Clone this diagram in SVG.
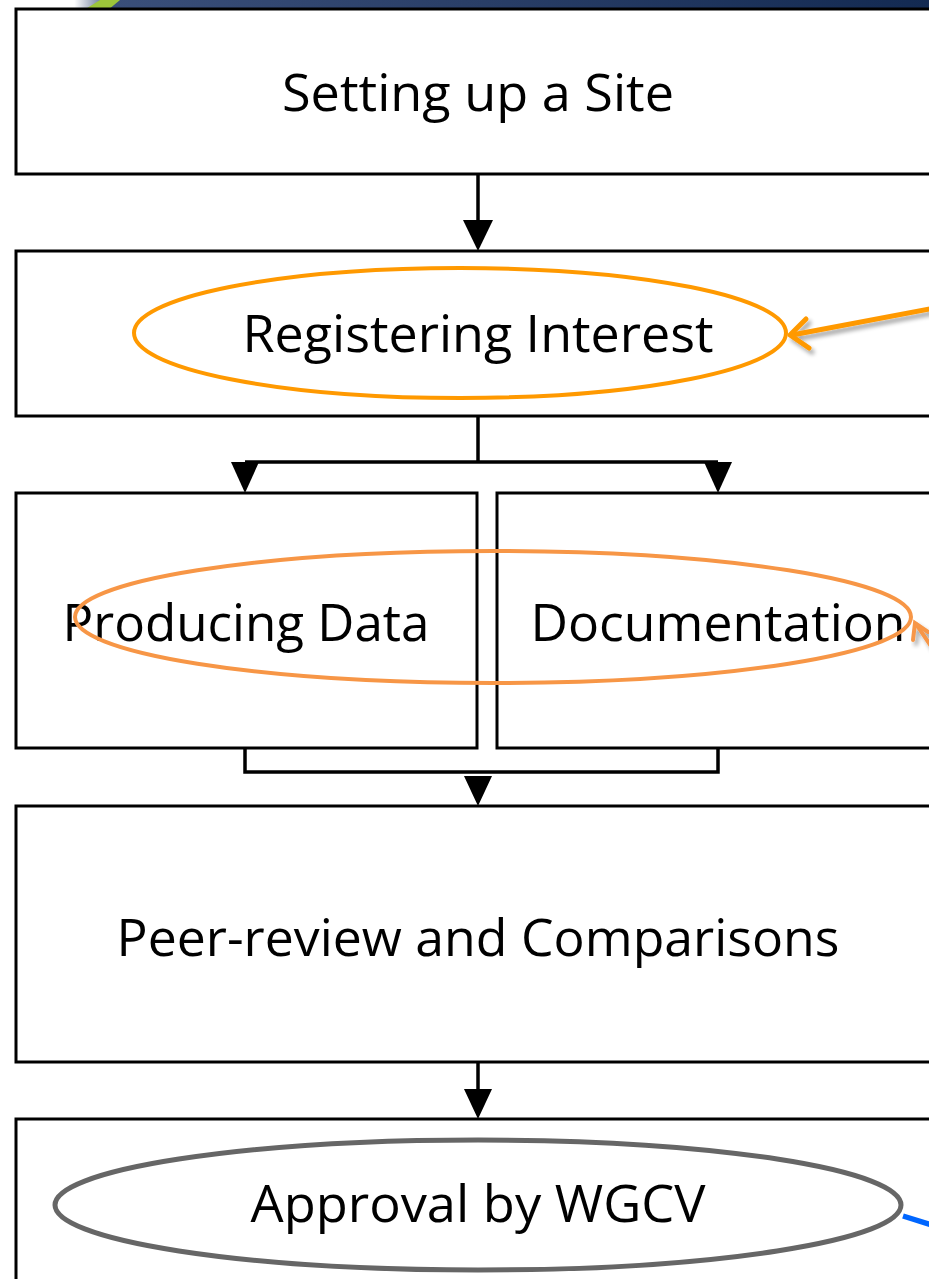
<svg xmlns="http://www.w3.org/2000/svg" width="929" height="1279" viewBox="0 0 929 1279">
  <defs>
    <linearGradient id="bannerGrad" x1="0" y1="0" x2="1" y2="0">
      <stop offset="0" stop-color="#ffffff"/>
      <stop offset="0.08" stop-color="#ffffff"/>
      <stop offset="0.12" stop-color="#3a4f7a"/>
      <stop offset="0.5" stop-color="#2a3f68"/>
      <stop offset="1" stop-color="#132a52"/>
    </linearGradient>
    <filter id="softShadow" x="-20%" y="-50%" width="140%" height="200%">
      <feGaussianBlur in="SourceAlpha" stdDeviation="2"/>
      <feOffset dx="3" dy="4" result="off"/>
      <feComponentTransfer><feFuncA type="linear" slope="0.35"/></feComponentTransfer>
      <feMerge><feMergeNode/><feMergeNode in="SourceGraphic"/></feMerge>
    </filter>
  </defs>
  <style>
    .box { fill: #ffffff; stroke: #000000; stroke-width: 3; }
    .label { font-family: "Open Sans", "Liberation Sans", sans-serif; font-size: 52px; fill: #000000; text-anchor: middle; }
    .conn { fill: none; stroke: #000000; stroke-width: 3.5; }
    .head { fill: #000000; }
  </style>

  <!-- header strip -->
  <g id="banner">
    <rect x="0" y="0" width="929" height="10" fill="url(#bannerGrad)"/>
    <polygon points="84,10 100,0 120,0 108,10" fill="#9cc53a"/>
  </g>

  <g id="node-setup">
    <rect class="box" x="16" y="9" width="930" height="165"/>
    <text class="label" x="478" y="111" textLength="392" lengthAdjust="spacingAndGlyphs">Setting up a Site</text>
  </g>

  <g id="node-register">
    <rect class="box" x="16" y="251" width="930" height="165"/>
    <ellipse cx="460" cy="333" rx="326" ry="65" fill="none" stroke="#ff9900" stroke-width="4"/>
    <text class="label" x="478" y="352" textLength="471" lengthAdjust="spacingAndGlyphs">Registering Interest</text>
  </g>

  <g id="node-producing">
    <rect class="box" x="16" y="493" width="461" height="255"/>
    <text class="label" x="246" y="641" textLength="367" lengthAdjust="spacingAndGlyphs">Producing Data</text>
  </g>

  <g id="node-documentation">
    <rect class="box" x="497" y="493" width="450" height="255"/>
    <text class="label" x="718" y="641" textLength="375" lengthAdjust="spacingAndGlyphs">Documentation</text>
  </g>

  <g id="node-peer">
    <rect class="box" x="16" y="806" width="930" height="256"/>
    <text class="label" x="478" y="956" textLength="723" lengthAdjust="spacingAndGlyphs">Peer-review and Comparisons</text>
  </g>

  <g id="node-approval">
    <rect class="box" x="16" y="1119" width="930" height="200"/>
    <ellipse cx="478" cy="1205" rx="423" ry="65" fill="none" stroke="#666666" stroke-width="5"/>
    <text class="label" x="478" y="1222" textLength="455" lengthAdjust="spacingAndGlyphs">Approval by WGCV</text>
  </g>

  <!-- highlight ring over the two parallel steps -->
  <g id="highlight-parallel">
    <ellipse cx="493" cy="617" rx="418" ry="66" fill="none" stroke="#f79646" stroke-width="4"/>
  </g>

  <g id="connectors">
    <!-- setup -> register -->
    <line class="conn" x1="478" y1="174" x2="478" y2="222"/>
    <polygon class="head" points="463,220 493,220 478,251"/>
    <!-- register -> split -->
    <polyline class="conn" points="478,416 478,462"/>
    <polyline class="conn" points="245,462 718,462"/>
    <polygon class="head" points="231,462 259,462 245,493"/>
    <polygon class="head" points="704,462 732,462 718,493"/>
    <!-- join -> peer review -->
    <polyline class="conn" points="245,748 245,772 718,772 718,748"/>
    <polygon class="head" points="464,776 492,776 478,806"/>
    <!-- peer review -> approval -->
    <line class="conn" x1="478" y1="1062" x2="478" y2="1090"/>
    <polygon class="head" points="464,1089 492,1089 478,1119"/>
  </g>

  <g id="callouts">
    <g filter="url(#softShadow)" stroke="#ff9900" stroke-width="5" fill="none" stroke-linecap="round" stroke-linejoin="round">
      <line x1="935" y1="308" x2="792" y2="335"/>
      <polyline points="806,319 790,335 809,348"/>
    </g>
    <g filter="url(#softShadow)" stroke="#f79646" stroke-width="4" fill="none" stroke-linecap="round">
      <line x1="935" y1="652" x2="916" y2="624"/>
      <polyline points="913,640 915,623 928,632"/>
    </g>
    <line x1="903" y1="1216" x2="935" y2="1226" stroke="#0066ff" stroke-width="5.5"/>
  </g>
</svg>
